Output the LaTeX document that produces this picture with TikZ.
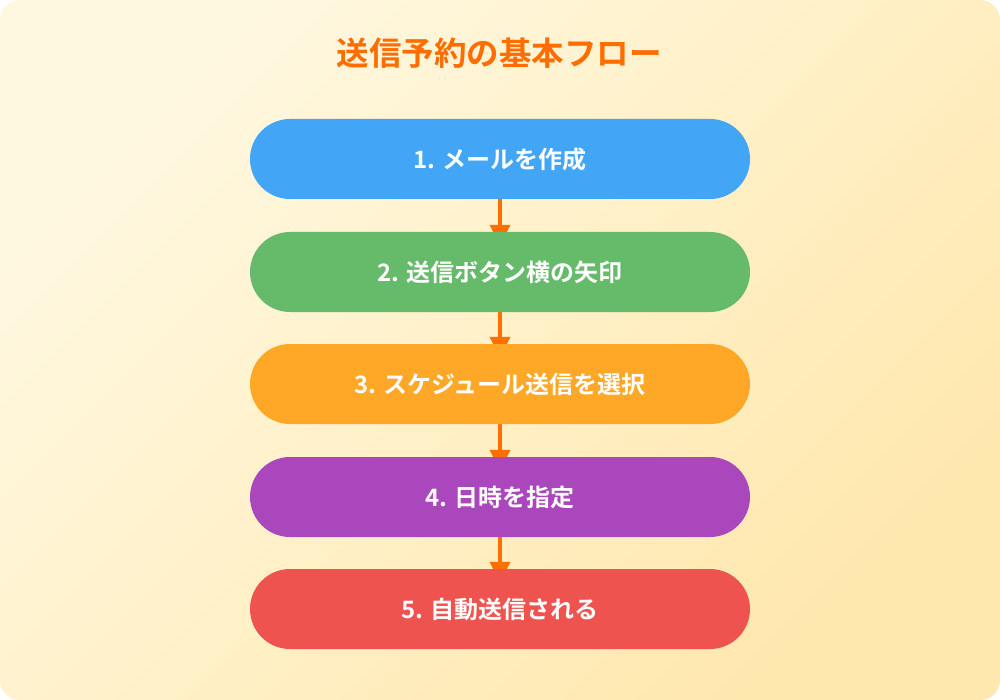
\documentclass[tikz,border=0pt]{standalone}
\usepackage{fontspec}
\newfontfamily\cjk{Noto Sans CJK JP}[BoldFont={* Bold}]
\usetikzlibrary{arrows.meta}
\definecolor{bgA}{HTML}{FFF8E1}
\definecolor{bgB}{HTML}{FFE8AE}
\definecolor{ttl}{HTML}{FF6D00}
\definecolor{arr}{HTML}{FF6F00}
\definecolor{cA}{HTML}{42A5F5}
\definecolor{cB}{HTML}{66BB6A}
\definecolor{cC}{HTML}{FFA726}
\definecolor{cD}{HTML}{AB47BC}
\definecolor{cE}{HTML}{EF5350}
\begin{document}
\begin{tikzpicture}[x=1pt,y=-1pt,
  stepbox/.style={rounded corners=40pt,minimum width=500pt,minimum height=80pt,inner sep=0pt,
    text=white,font=\cjk\bfseries\fontsize{24}{28}\selectfont},
  flow/.style={line width=4pt,draw=arr,-{Triangle[width=20pt,length=20pt]}}]
\useasboundingbox (0,0) rectangle (1000,700);
\shade[top color=bgA,bottom color=bgB,shading angle=45,rounded corners=20pt] (0,0) rectangle (1000,700);
\node[text=ttl,font=\cjk\bfseries\fontsize{32.5}{38}\selectfont] (title) at (499,53) {送信予約の基本フロー};
\coordinate (c1) at (500,159);
\coordinate (c2) at (500,272);
\coordinate (c3) at (500,384);
\coordinate (c4) at (500,497);
\coordinate (c5) at (500,609);
\path (c1) node[stepbox] (b1) {}; 
\path (c2) node[stepbox] (b2) {};
\path (c3) node[stepbox] (b3) {};
\path (c4) node[stepbox] (b4) {};
\path (c5) node[stepbox] (b5) {};
\draw[flow] (b1.south) -- ([yshift=-13pt]b2.north);
\draw[flow] (b2.south) -- ([yshift=-13pt]b3.north);
\draw[flow] (b3.south) -- ([yshift=-13pt]b4.north);
\draw[flow] (b4.south) -- ([yshift=-13pt]b5.north);
\node[stepbox,fill=cA] at (c1) {1. メールを作成};
\node[stepbox,fill=cB] at (c2) {2. 送信ボタン横の矢印};
\node[stepbox,fill=cC] at (c3) {3. スケジュール送信を選択};
\node[stepbox,fill=cD] at (c4) {4. 日時を指定};
\node[stepbox,fill=cE] at (c5) {5. 自動送信される};
\end{tikzpicture}
\end{document}
